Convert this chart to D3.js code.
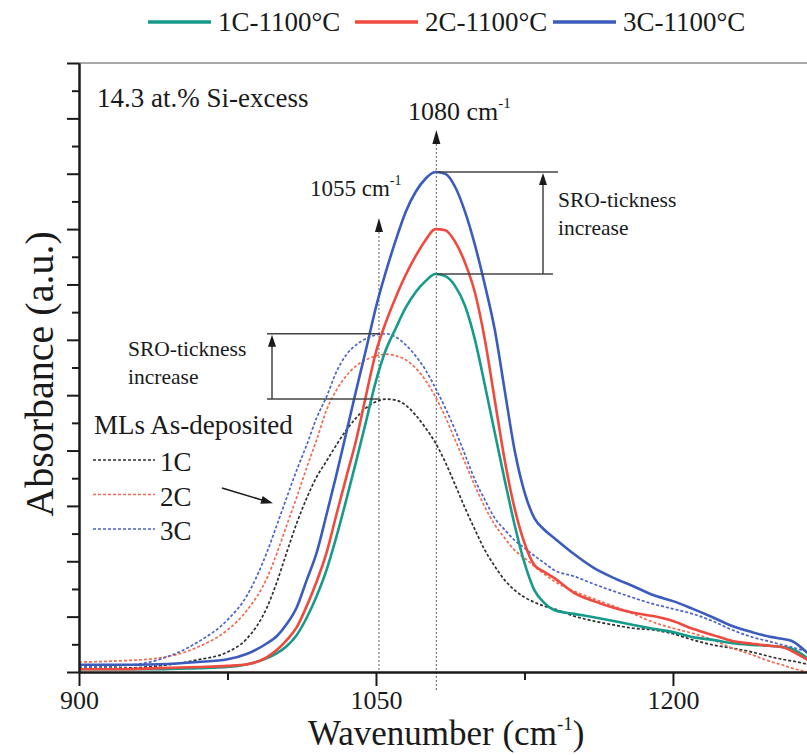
<!DOCTYPE html>
<html><head><meta charset="utf-8">
<script src="https://cdn.jsdelivr.net/npm/d3@7"></script>
<style>
body{margin:0;background:#fff;}
svg{display:block;font-family:"Liberation Serif","Times New Roman",serif;}
</style>
</head><body>
<svg id="c" width="807" height="755"></svg>
<script>
// ---------- data ----------
const wavenumbers = [900, 920, 940, 960, 975, 985, 995, 1000, 1005, 1010, 1015, 1020, 1025, 1030, 1035, 1040, 1045, 1050, 1055, 1060, 1065, 1070, 1075, 1080, 1085, 1090, 1095, 1100, 1105, 1110, 1115, 1120, 1125, 1130, 1135, 1140, 1150, 1160, 1170, 1180, 1190, 1200, 1210, 1220, 1230, 1240, 1250, 1255, 1260, 1268];

const annealed1C = [0.05,0.05,0.05,0.07,0.09,0.14,0.25,0.34,0.47,0.67, 0.98,1.37,1.84,2.44,3.11,3.81,4.53,5.26,5.82,6.21, 6.58,6.86,7.06,7.19,7.15,6.97,6.61,6.00,5.18,4.32, 3.47,2.66,1.97,1.48,1.25,1.12,1.05,0.99,0.92,0.85, 0.78,0.72,0.63,0.58,0.52,0.49,0.47,0.45,0.42,0.25];
const annealed2C = [0.05,0.05,0.07,0.09,0.11,0.14,0.27,0.40,0.58,0.81, 1.19,1.63,2.15,2.84,3.52,4.19,5.00,5.78,6.32,6.77, 7.17,7.51,7.80,8.00,7.98,7.77,7.39,6.85,6.00,4.91, 3.83,2.96,2.33,1.93,1.81,1.70,1.43,1.28,1.16,1.07, 1.01,0.92,0.78,0.67,0.56,0.51,0.47,0.45,0.38,0.22];
const annealed3C = [0.13,0.13,0.14,0.18,0.23,0.33,0.52,0.65,0.87,1.17, 1.66,2.15,2.84,3.56,4.32,5.09,5.83,6.59,7.23,7.80, 8.31,8.67,8.91,9.03,9.00,8.76,8.31,7.71,6.99,6.18, 5.09,4.01,3.25,2.78,2.57,2.42,2.13,1.88,1.70,1.55, 1.39,1.28,1.14,0.99,0.83,0.72,0.63,0.60,0.56,0.34];
const deposited1C = [0.07,0.07,0.11,0.22,0.36,0.61,1.17,1.63,2.17,2.69, 3.14,3.52,3.81,4.10,4.37,4.59,4.77,4.88,4.93,4.91, 4.82,4.64,4.41,4.14,3.79,3.38,2.96,2.57,2.20,1.91, 1.66,1.48,1.35,1.26,1.19,1.14,1.01,0.92,0.85,0.79, 0.76,0.69,0.58,0.49,0.43,0.36,0.27,0.23,0.20,0.14];
const deposited2C = [0.18,0.20,0.25,0.45,0.76,1.12,1.70,2.15,2.66,3.16, 3.69,4.19,4.73,5.09,5.35,5.53,5.64,5.71,5.74,5.71, 5.64,5.49,5.27,4.97,4.61,4.19,3.78,3.36,2.98,2.66, 2.42,2.20,2.06,1.91,1.77,1.64,1.46,1.32,1.19,1.05, 0.90,0.79,0.70,0.58,0.43,0.31,0.18,0.13,0.07,0.00];
const deposited3C = [0.09,0.11,0.22,0.54,0.94,1.39,2.17,2.66,3.16,3.65, 4.10,4.59,4.97,5.42,5.73,5.91,6.02,6.09,6.11,6.05, 5.91,5.71,5.46,5.13,4.77,4.37,3.92,3.47,3.11,2.78, 2.57,2.38,2.24,2.10,1.97,1.84,1.73,1.59,1.46,1.34, 1.23,1.14,1.05,0.92,0.76,0.63,0.54,0.49,0.45,0.36];

const annealedNames = ["1C-1100°C", "2C-1100°C", "3C-1100°C"];
const depositedNames = ["1C", "2C", "3C"];
const xTickValues = [900, 1050, 1200];
const xMinorTickValues = [975, 1125];
const yMajorTickValues = d3.range(0, 12, 1);
const yMinorTickValues = d3.range(0.5, 11, 1);
const peakPositions = [1051.5, 1080.5];
const peakLabels = ["1055", "1080"];

// ---------- layout ----------
const svg = d3.select("#c");
const x = d3.scaleLinear().domain([900, 1267.7]).range([79, 807]);
const y = d3.scaleLinear().domain([0, 11]).range([672, 63]);
const ink = "#1a1a1a";

const annealedColors = ["#169a8a", "#ef4a3d", "#3b5bbd"];
const depositedColors = ["#2e2e2e", "#f26a50", "#4b62c9"];

const annealed = [annealed1C, annealed2C, annealed3C].map((v, i) => ({name: annealedNames[i], color: annealedColors[i], values: v}));
const deposited = [deposited1C, deposited2C, deposited3C].map((v, i) => ({name: depositedNames[i], color: depositedColors[i], values: v}));

svg.append("defs").append("clipPath").attr("id", "plot")
  .append("rect").attr("x", 79).attr("y", 50).attr("width", 728).attr("height", 623);

// top frame line
svg.append("line").attr("x1", 79).attr("x2", 807).attr("y1", y(11)).attr("y2", y(11))
  .attr("stroke", "#a8a8a8").attr("stroke-width", 2);

// dotted peak lines
const peakTops = [218, 130];
svg.selectAll("line.peak").data(peakPositions).join("line").attr("class", "peak")
  .attr("x1", d => x(d)).attr("x2", d => x(d))
  .attr("y1", (d, i) => peakTops[i] + 10).attr("y2", (d, i) => i === 1 ? 692 : 672)
  .attr("stroke", "#7a7a7a").attr("stroke-width", 1.2).attr("stroke-dasharray", "2,2");

function arrowHead(xt, yt, dir, w, h) {
  const c = Math.cos(dir), s = Math.sin(dir);
  const bx = xt - c * h, by = yt - s * h;
  const px = -s * w / 2, py = c * w / 2;
  svg.append("path").attr("d", `M${xt},${yt}L${bx + px},${by + py}L${bx - px},${by - py}Z`).attr("fill", ink);
}
peakPositions.forEach((d, i) => arrowHead(x(d), peakTops[i], -Math.PI / 2, 8, 14));

// curves
const line = d3.line().x((d, i) => x(wavenumbers[i])).y(d => y(d)).curve(d3.curveMonotoneX);
const g = svg.append("g").attr("clip-path", "url(#plot)");
g.selectAll("path.dep").data(deposited).join("path").attr("class", "dep")
  .attr("d", d => line(d.values)).attr("fill", "none").attr("stroke", d => d.color)
  .attr("stroke-width", 1.7).attr("stroke-dasharray", "3,2");
g.selectAll("path.ann").data(annealed).join("path").attr("class", "ann")
  .attr("d", d => line(d.values)).attr("fill", "none").attr("stroke", d => d.color)
  .attr("stroke-width", 2.6);

// axes
const yAxisMajor = d3.axisLeft(y).tickValues(yMajorTickValues).tickSize(12).tickSizeOuter(0).tickFormat("");
const yAxisMinor = d3.axisLeft(y).tickValues(yMinorTickValues).tickSize(7).tickSizeOuter(0).tickFormat("");
const xAxisMajor = d3.axisBottom(x).tickValues(xTickValues).tickSize(14).tickSizeOuter(0).tickPadding(5).tickFormat(d3.format("d"));
const xAxisMinor = d3.axisBottom(x).tickValues(xMinorTickValues).tickSize(8).tickSizeOuter(0).tickFormat("");

function styleAxis(sel) {
  sel.selectAll("path.domain").attr("stroke", ink).attr("stroke-width", 2);
  sel.selectAll(".tick line").attr("stroke", ink).attr("stroke-width", 2);
  sel.selectAll(".tick text").attr("fill", ink).attr("font-size", 26).attr("font-family", "Liberation Serif");
}
svg.append("g").attr("transform", "translate(79,0)").call(yAxisMajor).call(styleAxis);
svg.append("g").attr("transform", "translate(79,0)").call(yAxisMinor).call(styleAxis);
svg.append("g").attr("transform", "translate(0,672)").call(xAxisMajor).call(styleAxis);
svg.append("g").attr("transform", "translate(0,672)").call(xAxisMinor).call(styleAxis);

// axis titles
const xt = svg.append("text").attr("x", 308).attr("y", 745).attr("font-size", 35).attr("fill", ink).text("Wavenumber (cm");
xt.append("tspan").attr("font-size", 19).attr("dy", -15).text("-1");
xt.append("tspan").attr("dy", 15).text(")");
svg.append("text").attr("transform", "translate(53,374) rotate(-90)").attr("text-anchor", "middle")
  .attr("font-size", 40).attr("fill", ink).text("Absorbance (a.u.)");

// top legend
const legX = [148, 355, 553];
const lg = svg.selectAll("g.leg").data(annealed).join("g").attr("class", "leg")
  .attr("transform", (d, i) => `translate(${legX[i]},22)`);
lg.append("line").attr("x1", 0).attr("x2", 63).attr("stroke", d => d.color).attr("stroke-width", 3.5);
lg.append("text").attr("x", 70).attr("y", 9).attr("font-size", 27).attr("fill", ink).text(d => d.name);

// inner legend (as-deposited)
svg.append("text").attr("x", 94).attr("y", 434).attr("font-size", 27).attr("fill", ink).text("MLs As-deposited");
const dl = svg.selectAll("g.dleg").data(deposited).join("g").attr("class", "dleg")
  .attr("transform", (d, i) => `translate(93,${460 + i * 34.5})`);
dl.append("line").attr("x1", 0).attr("x2", 62).attr("stroke", d => d.color).attr("stroke-width", 1.7).attr("stroke-dasharray", "3,2");
dl.append("text").attr("x", 67).attr("y", 11).attr("font-size", 27).attr("fill", ink).text(d => d.name);

// pointer arrow to as-deposited curves
svg.append("line").attr("x1", 222).attr("y1", 488).attr("x2", 264).attr("y2", 500.6).attr("stroke", ink).attr("stroke-width", 1.5);
arrowHead(273, 503.3, Math.atan2(15, 50), 8, 12);

// sample label
svg.append("text").attr("x", 97).attr("y", 107).attr("font-size", 27).attr("fill", ink).text("14.3 at.% Si-excess");

// peak labels
const pl1 = svg.append("text").attr("x", 310).attr("y", 196).attr("font-size", 23).attr("fill", ink).text(peakLabels[0] + " cm");
pl1.append("tspan").attr("font-size", 14).attr("dy", -11).text("-1");
const pl2 = svg.append("text").attr("x", 408).attr("y", 120).attr("font-size", 26).attr("fill", ink).text(peakLabels[1] + " cm");
pl2.append("tspan").attr("font-size", 15).attr("dy", -12).text("-1");

// brackets
function bracket(xFrom, xTopEnd, xBotEnd, yTop, yBot, xArrow, lx, ly) {
  svg.append("line").attr("x1", xFrom).attr("x2", xTopEnd).attr("y1", yTop).attr("y2", yTop).attr("stroke", "#444").attr("stroke-width", 1.5);
  svg.append("line").attr("x1", xFrom).attr("x2", xBotEnd).attr("y1", yBot).attr("y2", yBot).attr("stroke", "#444").attr("stroke-width", 1.5);
  svg.append("line").attr("x1", xArrow).attr("x2", xArrow).attr("y1", yBot).attr("y2", yTop + 8).attr("stroke", "#444").attr("stroke-width", 1.5);
  arrowHead(xArrow, yTop + 1, -Math.PI / 2, 8, 12);
  const t = svg.append("text").attr("x", lx).attr("y", ly).attr("font-size", 21.5).attr("fill", ink);
  t.append("tspan").attr("x", lx).text("SRO-tickness");
  t.append("tspan").attr("x", lx).attr("dy", 28).text("increase");
}
const topAnn = y(d3.max(annealed3C)), botAnn = y(d3.max(annealed1C));
bracket(x(1081), 558, 553, topAnn, botAnn, 543, 558, 207);
const topDep = y(d3.max(deposited3C)), botDep = y(d3.max(deposited1C));
bracket(267, x(1052), x(1052), topDep, botDep, 272, 128, 356);
</script>
</body></html>
